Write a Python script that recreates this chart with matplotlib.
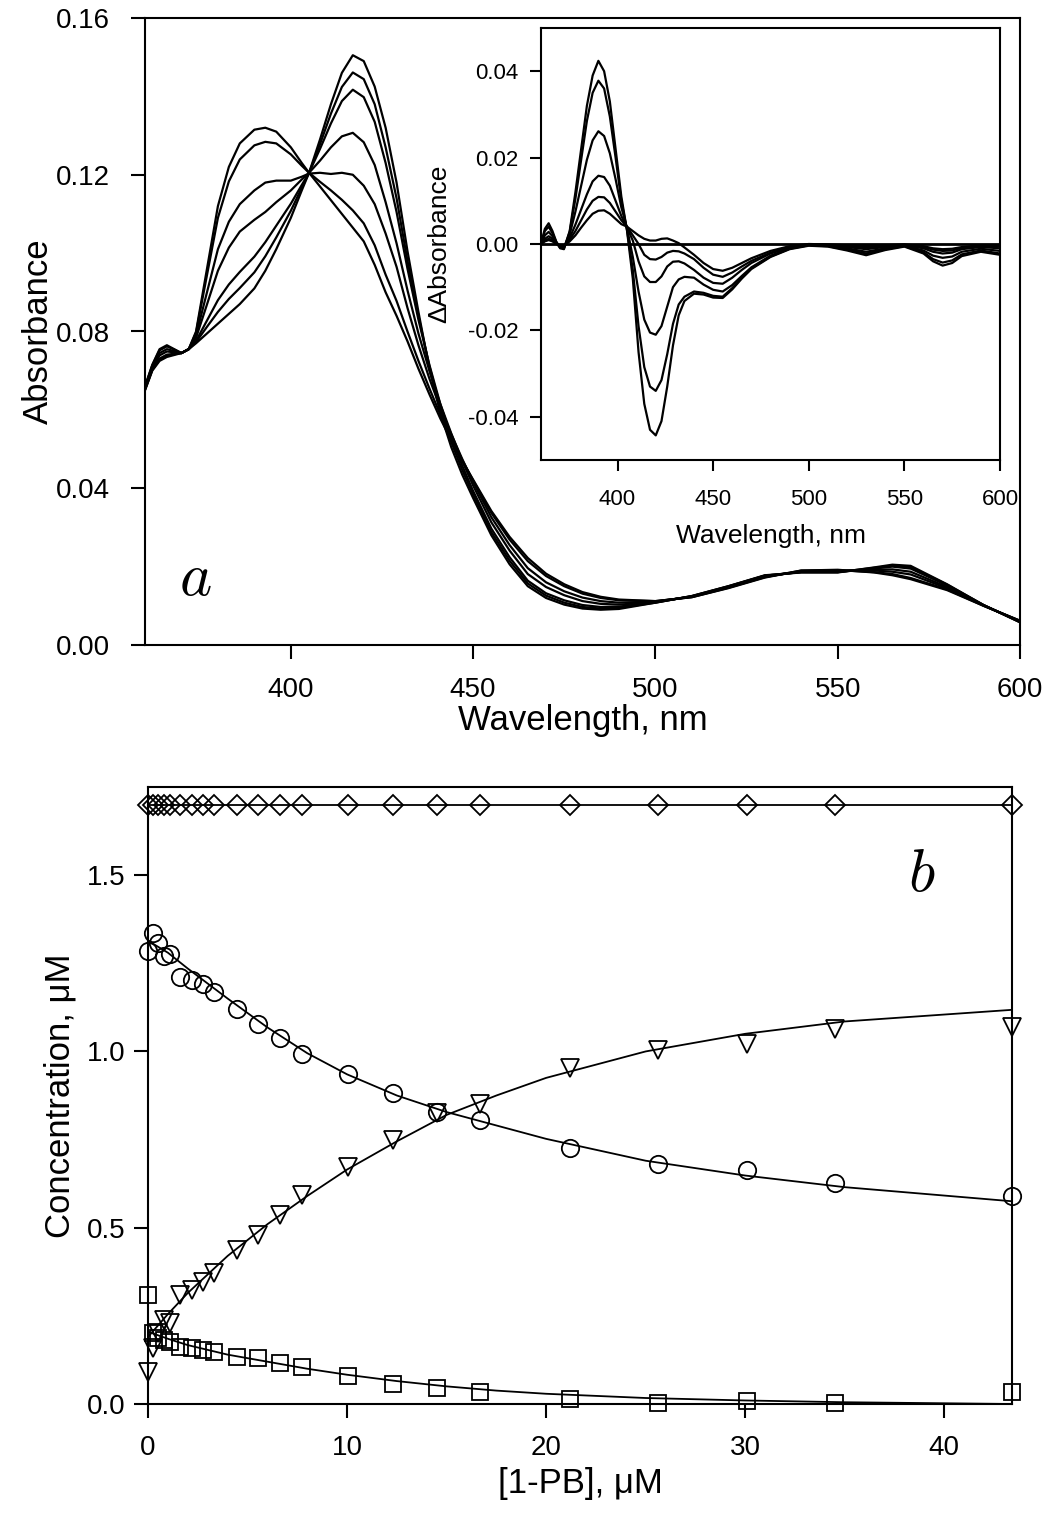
import matplotlib
matplotlib.use("Agg")
import matplotlib.pyplot as plt

plt.rcParams['font.family'] = ['Liberation Sans', 'DejaVu Sans']
plt.rcParams['mathtext.fontset'] = 'cm'

# ---- panel a: absorbance spectra ----
wl = [360, 362, 364, 366, 368, 370, 372, 374, 377, 380, 383, 386, 390, 393, 396,
      400, 403, 405, 408, 411, 414, 417, 420, 423, 426, 429, 432, 435, 438, 441,
      444, 447, 450, 455, 460, 465, 470, 475, 480, 485, 490, 500, 510, 520, 530,
      540, 550, 560, 565, 570, 580, 590, 600]

abs_1 = [.0660, .0715, .0755, .0765, .0755, .0745, .0755, .0800, .0960, .1120, .1220, .1280,
         .1315, .1320, .1310, .1270, .1230, .1205, .1170, .1135, .1100, .1065, .1030, .0970,
         .0900, .0840, .0775, .0705, .0640, .0578, .0522, .0470, .0422, .0342, .0276, .0222,
         .0182, .0155, .0135, .0123, .0116, .0112, .0122, .0145, .0172, .0190, .0192, .0185,
         .0178, .0168, .0140, .0100, .0062]
abs_2 = [.0659, .0714, .0752, .0762, .0754, .0745, .0755, .0797, .0944, .1090, .1183, .1239,
         .1275, .1284, .1280, .1252, .1223, .1205, .1182, .1160, .1136, .1109, .1076, .1020,
         .0945, .0878, .0800, .0725, .0655, .0588, .0528, .0472, .0420, .0337, .0269, .0214,
         .0176, .0150, .0131, .0120, .0114, .0112, .0122, .0146, .0173, .0190, .0191, .0186,
         .0181, .0171, .0142, .0100, .0062]
abs_3 = [.0657, .0710, .0745, .0755, .0750, .0745, .0755, .0790, .0900, .1010, .1080, .1125,
         .1160, .1180, .1185, .1185, .1195, .1203, .1205, .1202, .1205, .1200, .1172, .1125,
         .1050, .0965, .0860, .0765, .0680, .0605, .0538, .0475, .0416, .0326, .0255, .0196,
         .0160, .0137, .0121, .0112, .0108, .0111, .0123, .0147, .0174, .0188, .0190, .0190,
         .0187, .0180, .0145, .0101, .0061]
abs_4 = [.0655, .0707, .0739, .0749, .0747, .0745, .0755, .0784, .0869, .0955, .1014, .1055,
         .1085, .1105, .1130, .1160, .1188, .1205, .1236, .1270, .1298, .1307, .1283, .1225,
         .1130, .1025, .0905, .0795, .0700, .0615, .0540, .0470, .0407, .0313, .0241, .0181,
         .0148, .0127, .0112, .0105, .0103, .0110, .0124, .0148, .0175, .0187, .0188, .0192,
         .0193, .0187, .0148, .0101, .0060]
abs_5 = [.0652, .0703, .0731, .0741, .0743, .0745, .0755, .0776, .0828, .0880, .0920, .0952,
         .0991, .1028, .1070, .1126, .1174, .1205, .1266, .1331, .1388, .1417, .1398, .1335,
         .1230, .1105, .0960, .0830, .0715, .0615, .0530, .0458, .0393, .0297, .0224, .0164,
         .0132, .0114, .0102, .0097, .0098, .0109, .0124, .0149, .0177, .0186, .0186, .0195,
         .0200, .0195, .0152, .0102, .0059]
abs_6 = [.0651, .0702, .0728, .0738, .0742, .0745, .0755, .0773, .0812, .0850, .0883, .0911,
         .0951, .0992, .1040, .1108, .1167, .1205, .1278, .1356, .1424, .1461, .1444, .1380,
         .1270, .1140, .0980, .0840, .0712, .0605, .0518, .0447, .0384, .0288, .0215, .0157,
         .0126, .0108, .0097, .0093, .0095, .0108, .0125, .0150, .0177, .0186, .0186, .0197,
         .0202, .0199, .0154, .0102, .0058]
abs_7 = [.0650, .0700, .0725, .0735, .0740, .0745, .0755, .0770, .0795, .0820, .0845, .0870,
         .0910, .0955, .1010, .1090, .1160, .1205, .1290, .1380, .1460, .1505, .1490, .1425,
         .1320, .1180, .1005, .0850, .0705, .0592, .0505, .0435, .0375, .0280, .0206, .0150,
         .0120, .0103, .0093, .0090, .0092, .0108, .0125, .0150, .0178, .0185, .0185, .0198,
         .0205, .0202, .0155, .0102, .0058]

# ---- inset: difference spectra ----
wl_in = [360, 362, 364, 366, 368, 370, 372, 375, 378, 381, 384, 387, 390, 393, 396, 399,
         402, 405, 408, 411, 414, 417, 420, 423, 426, 429, 432, 435, 440, 445, 450, 455,
         460, 465, 470, 480, 490, 500, 510, 520, 530, 540, 550, 560, 565, 570, 575, 580,
         590, 600]

diff_1 = [0.0, .0035, .0048, .0030, .0005, -.0010, -.0012, .0030, .0120, .0220, .0320, .0390,
          .0424, .0400, .0330, .0220, .0110, .0030, -.0080, -.0250, -.0370, -.0430, -.0443,
          -.0410, -.0330, -.0235, -.0165, -.0132, -.0115, -.0117, -.0124, -.0125, -.0105,
          -.0080, -.0058, -.0030, -.0012, -.0004, -.0006, -.0015, -.0026, -.0014, -.0006,
          -.0022, -.0040, -.0050, -.0044, -.0028, -.0018, -.0025]
diff_2 = [0.0, .0030, .0040, .0025, .0005, -.0008, -.0010, .0028, .0105, .0195, .0285, .0350,
          .0378, .0360, .0295, .0200, .0100, .0032, -.0060, -.0190, -.0285, -.0330, -.0340,
          -.0315, -.0255, -.0185, -.0140, -.0122, -.0110, -.0113, -.0120, -.0122, -.0102,
          -.0078, -.0056, -.0029, -.0011, -.0003, -.0005, -.0013, -.0022, -.0012, -.0005,
          -.0019, -.0035, -.0043, -.0038, -.0024, -.0015, -.0022]
diff_3 = [0.0, .0020, .0028, .0018, .0003, -.0008, -.0008, .0022, .0075, .0135, .0195, .0240,
          .0261, .0250, .0210, .0150, .0085, .0036, -.0030, -.0110, -.0175, -.0205, -.0210,
          -.0190, -.0145, -.0100, -.0082, -.0076, -.0078, -.0094, -.0106, -.0110, -.0095,
          -.0074, -.0054, -.0027, -.0010, -.0002, -.0004, -.0010, -.0018, -.0010, -.0004,
          -.0015, -.0027, -.0032, -.0029, -.0018, -.0011, -.0016]
diff_4 = [0.0, .0012, .0018, .0012, .0002, -.0006, -.0006, .0014, .0045, .0080, .0115, .0145,
          .0158, .0155, .0135, .0100, .0065, .0038, .0008, -.0040, -.0075, -.0088, -.0088,
          -.0075, -.0052, -.0041, -.0040, -.0045, -.0060, -.0078, -.0090, -.0092, -.0078,
          -.0060, -.0044, -.0022, -.0008, -.0001, -.0003, -.0007, -.0012, -.0007, -.0003,
          -.0010, -.0018, -.0022, -.0020, -.0012, -.0007, -.0010]
diff_5 = [0.0, .0008, .0012, .0008, .0001, -.0005, -.0005, .0010, .0030, .0055, .0080, .0100,
          .0109, .0108, .0095, .0075, .0055, .0040, .0020, .0000, -.0025, -.0035, -.0036,
          -.0030, -.0020, -.0016, -.0017, -.0022, -.0035, -.0055, -.0071, -.0076, -.0066,
          -.0052, -.0039, -.0020, -.0007, -.0001, -.0002, -.0005, -.0008, -.0005, -.0002,
          -.0007, -.0013, -.0016, -.0015, -.0009, -.0005, -.0006]
diff_6 = [0.0, .0006, .0009, .0006, .0000, -.0004, -.0004, .0006, .0020, .0038, .0055, .0070,
          .0077, .0078, .0070, .0058, .0046, .0040, .0030, .0020, .0012, .0008, .0008,
          .0012, .0013, .0008, .0002, -.0008, -.0025, -.0044, -.0058, -.0062, -.0055,
          -.0044, -.0033, -.0016, -.0005, .0000, -.0001, -.0003, -.0005, -.0003, -.0001,
          -.0005, -.0010, -.0012, -.0011, -.0007, -.0003, -.0003]

# ---- panel b: concentrations ----
pb = [0, 0.25, 0.5, 0.8, 1.1, 1.6, 2.2, 2.75, 3.3, 4.45, 5.55, 6.65, 7.75, 10.05,
      12.3, 14.5, 16.7, 21.2, 25.6, 30.1, 34.5, 43.4]
conc_circle = [1.286, 1.335, 1.307, 1.272, 1.275, 1.212, 1.204, 1.192, 1.168, 1.119, 1.077,
               1.039, 0.994, 0.937, 0.881, 0.828, 0.805, 0.725, 0.682, 0.663, 0.627, 0.589]
conc_tri = [0.092, 0.158, 0.200, 0.238, 0.229, 0.309, 0.323, 0.347, 0.371, 0.436, 0.479,
            0.535, 0.592, 0.672, 0.748, 0.824, 0.850, 0.952, 1.003, 1.020, 1.065, 1.068]
conc_sq = [0.309, 0.200, 0.187, 0.181, 0.175, 0.162, 0.158, 0.153, 0.148, 0.134, 0.130,
           0.116, 0.106, 0.080, 0.058, 0.046, 0.035, 0.014, 0.003, 0.008, 0.002, 0.034]
conc_dia = [1.70, 1.70, 1.70, 1.70, 1.70, 1.70, 1.70, 1.70, 1.70, 1.70, 1.70,
            1.70, 1.70, 1.70, 1.70, 1.70, 1.70, 1.70, 1.70, 1.70, 1.70, 1.70]

fit_x = [0, 1, 2, 4, 6, 8, 10, 12.5, 15, 17.5, 20, 25, 30, 35, 43.4]
fit_circle = [1.314, 1.28, 1.235, 1.15, 1.068, 0.995, 0.935, 0.875, 0.828, 0.79, 0.752,
              0.69, 0.648, 0.615, 0.575]
fit_tri = [0.19, 0.255, 0.315, 0.42, 0.51, 0.59, 0.665, 0.745, 0.82, 0.875, 0.925,
           1.0, 1.05, 1.085, 1.118]
fit_sq = [0.205, 0.185, 0.167, 0.14, 0.12, 0.1, 0.083, 0.065, 0.05, 0.038, 0.029,
          0.017, 0.01, 0.005, 0.0]
fit_dia = [1.70, 1.70, 1.70, 1.70, 1.70, 1.70, 1.70, 1.70, 1.70, 1.70, 1.70,
           1.70, 1.70, 1.70, 1.70]

W, H = 1050, 1521
fig = plt.figure(figsize=(W / 100, H / 100), dpi=100)

def box(l, t, r, b):
    return [l / W, 1 - b / H, (r - l) / W, (b - t) / H]

def style(ax, size, length, xpad, ypad):
    for s in ax.spines.values():
        s.set_linewidth(1.5)
    ax.tick_params(direction='out', length=length, width=1.5, labelsize=size,
                   top=False, right=False)
    ax.tick_params(axis='x', pad=xpad)
    ax.tick_params(axis='y', pad=ypad)

# main spectra
ax1 = fig.add_axes(box(145, 18, 1020, 645))
for y in [abs_1, abs_2, abs_3, abs_4, abs_5, abs_6, abs_7]:
    ax1.plot(wl, y, color='black', lw=1.6)
ax1.set_xlim(360, 600)
ax1.set_ylim(0, 0.16)
ax1.set_xticks([400, 450, 500, 550, 600])
ax1.set_yticks([0.0, 0.04, 0.08, 0.12, 0.16])
ax1.set_yticklabels(['0.00', '0.04', '0.08', '0.12', '0.16'])
style(ax1, 20, 10, 13, 15)
ax1.set_xlabel('Wavelength, nm', fontsize=25, labelpad=1)
ax1.set_ylabel('Absorbance', fontsize=25, labelpad=1)
ax1.text(0.057, 0.105, '$a$', transform=ax1.transAxes, fontsize=44,
         ha='center', va='center')

# inset
ax_in = fig.add_axes(box(541, 28, 1000, 460))
ax_in.axhline(0, color='black', lw=2)
for y in [diff_1, diff_2, diff_3, diff_4, diff_5, diff_6]:
    ax_in.plot(wl_in, y, color='black', lw=1.6)
ax_in.set_xlim(360, 600)
ax_in.set_ylim(-0.05, 0.05)
ax_in.set_xticks([400, 450, 500, 550, 600])
ax_in.set_yticks([-0.04, -0.02, 0.0, 0.02, 0.04])
ax_in.set_yticklabels(['-0.04', '-0.02', '0.00', '0.02', '0.04'])
style(ax_in, 16, 8, 13, 8)
ax_in.set_xlabel('Wavelength, nm', fontsize=19, labelpad=10)
ax_in.set_ylabel('ΔAbsorbance', fontsize=19, labelpad=12)

# concentrations
ax2 = fig.add_axes(box(148, 787, 1012, 1404))
mk = dict(color='black', mfc='none', mec='black', mew=1.3, ls='none', clip_on=False)
ax2.plot(fit_x, fit_dia, color='black', lw=1.3)
ax2.plot(fit_x, fit_circle, color='black', lw=1.3)
ax2.plot(fit_x, fit_tri, color='black', lw=1.3)
ax2.plot(fit_x, fit_sq, color='black', lw=1.3)
ax2.plot(pb, conc_dia, marker='D', ms=10, **mk)
ax2.plot(pb, conc_circle, marker='o', ms=12.5, **mk)
ax2.plot(pb, conc_tri, marker='v', ms=12.5, **mk)
ax2.plot(pb, conc_sq, marker='s', ms=11, **mk)
ax2.set_xlim(0, 43.4)
ax2.set_ylim(0, 1.75)
ax2.set_xticks([0, 10, 20, 30, 40])
ax2.set_yticks([0.0, 0.5, 1.0, 1.5])
ax2.set_yticklabels(['0.0', '0.5', '1.0', '1.5'])
style(ax2, 20, 10, 12, 6)
ax2.set_xlabel('[1-PB], μM', fontsize=25, labelpad=5)
ax2.set_ylabel('Concentration, μM', fontsize=25, labelpad=8)
ax2.text(0.896, 0.857, '$b$', transform=ax2.transAxes, fontsize=44,
         ha='center', va='center')

fig.savefig('out.png', dpi=100)
